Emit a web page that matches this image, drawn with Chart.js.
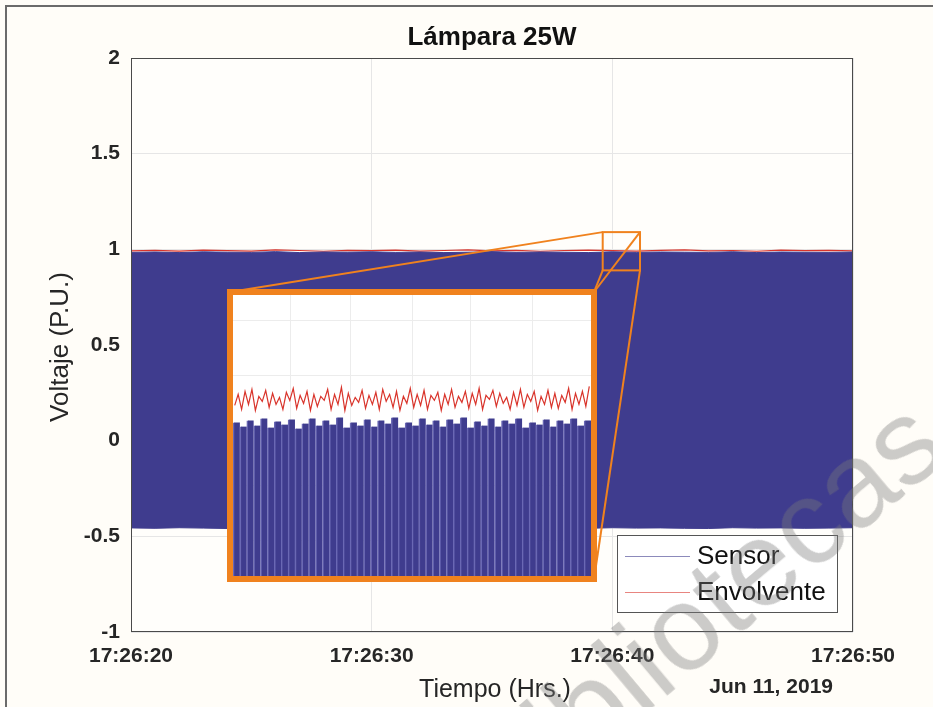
<!DOCTYPE html>
<html>
<head>
<meta charset="utf-8">
<title>Lámpara 25W</title>
<script src="https://cdn.jsdelivr.net/npm/chart.js@4.4.0/dist/chart.umd.min.js"></script>
<style>
    html, body {
        margin: 0;
        padding: 0;
        background: #ffffff;
    }

    #figura {
        position: relative;
        width: 933px;
        height: 707px;
        overflow: hidden;
        background: #fffdf8;
    }

    #cadre {
        position: absolute;
        left: 5px;
        top: 5px;
        width: 960px;
        height: 740px;
        border-left: 2px solid #6b6b6b;
        border-top: 2px solid #6b6b6b;
    }

    #principal {
        position: absolute;
        left: 0;
        top: 0;
    }

    #zoomBox {
        position: absolute;
        left: 227px;
        top: 289px;
        width: 370px;
        height: 293px;
        box-sizing: border-box;
        border: 6px solid #f0821e;
        background: #ffffff;
    }

    #zoomBox canvas {
        display: block;
    }

    #filigrane {
        position: absolute;
        left: 452px;
        top: 742px;
        transform-origin: 0 0;
        transform: rotate(-40deg);
        font-family: "Liberation Sans", Arial, sans-serif;
        font-size: 120px;
        line-height: 1;
        white-space: nowrap;
        color: rgba(120, 120, 120, 0.38);
        pointer-events: none;
    }
</style>
</head>
<body>
<div id="figura">
    <div id="cadre"></div>
    <canvas id="principal" width="933" height="707"></canvas>
    <div id="zoomBox"><canvas id="zoom" width="358" height="281"></canvas></div>
    <div id="filigrane">bibliotecas</div>
</div>

<script>
    // ---- données ----
    const titre = 'Lámpara 25W';
    const titreX = 'Tiempo (Hrs.)';
    const titreY = 'Voltaje (P.U.)';
    const dateLabel = 'Jun 11, 2019';
    const legendLabels = ['Sensor', 'Envolvente'];

    // secondes depuis 17:26:20
    const segundos = [0, 1, 2, 3, 4, 5, 6, 7, 8, 9, 10, 11, 12, 13, 14, 15, 16, 17, 18, 19, 20,
        21, 22, 23, 24, 25, 26, 27, 28, 29, 30];
    const xTickLabels = ['17:26:20', '17:26:30', '17:26:40', '17:26:50'];

    const sensorMax = [0.984, 0.986, 0.983, 0.987, 0.985, 0.984, 0.988, 0.983, 0.986, 0.985, 0.987,
        0.984, 0.986, 0.983, 0.985, 0.988, 0.984, 0.986, 0.985, 0.983, 0.987,
        0.984, 0.986, 0.985, 0.984, 0.987, 0.983, 0.986, 0.985, 0.984, 0.986];
    const sensorMin = [-0.456, -0.458, -0.455, -0.457, -0.459, -0.456, -0.455, -0.458, -0.457, -0.456, -0.459,
        -0.455, -0.457, -0.458, -0.456, -0.455, -0.457, -0.459, -0.456, -0.458, -0.455,
        -0.457, -0.456, -0.458, -0.459, -0.455, -0.457, -0.456, -0.458, -0.457, -0.455];
    const envolvente = [0.992, 0.995, 0.991, 0.996, 0.993, 0.991, 0.997, 0.994, 0.990, 0.995, 0.993,
        0.996, 0.991, 0.994, 0.997, 0.992, 0.995, 0.990, 0.994, 0.996, 0.993,
        0.991, 0.995, 0.997, 0.992, 0.994, 0.990, 0.996, 0.993, 0.995, 0.992];

    // rectangle agrandi (unités des axes)
    const zoomX = [19.6, 21.15];
    const zoomY = [0.89, 1.09];

    // encart : crêtes du capteur et enveloppe
    const insetSensor = [0.973, 0.969, 0.975, 0.970, 0.977, 0.968, 0.974, 0.971, 0.976, 0.967, 0.972, 0.977, 0.970,
        0.975, 0.971, 0.978, 0.968, 0.973, 0.970, 0.976, 0.969, 0.975, 0.972, 0.978, 0.968, 0.973,
        0.970, 0.977, 0.971, 0.975, 0.969, 0.976, 0.972, 0.978, 0.968, 0.974, 0.970, 0.977, 0.969,
        0.975, 0.972, 0.977, 0.968, 0.973, 0.971, 0.976, 0.969, 0.975, 0.972, 0.977, 0.970, 0.975];
    const insetEnvolvente = [0.990, 1.001, 0.986, 1.004, 0.991, 1.006, 0.985, 0.999, 0.994, 1.005, 0.988, 1.002,
        0.991, 0.998, 0.986, 1.003, 0.995, 1.007, 0.987, 1.000, 0.992, 1.004, 0.985, 1.001,
        0.989, 0.999, 0.995, 1.006, 0.986, 1.001, 0.991, 1.008, 0.985, 1.002, 0.990, 0.998,
        0.993, 1.005, 0.987, 1.000, 0.991, 1.003, 0.986, 1.006, 0.994, 1.001, 0.988, 1.004,
        0.985, 0.999, 0.992, 1.007, 0.988, 1.001, 0.990, 1.005, 0.986, 1.000, 0.995, 1.003,
        0.985, 1.001, 0.991, 1.006, 0.988, 0.999, 0.993, 1.004, 0.987, 1.002, 0.991, 1.007,
        0.986, 1.000, 0.996, 1.005, 0.989, 1.002, 0.992, 0.998, 0.986, 1.003, 0.990, 1.006,
        0.988, 1.001, 0.994, 1.004, 0.985, 0.999, 0.991, 1.005, 0.988, 1.002, 0.987, 1.000,
        0.993, 1.007, 0.986, 1.002, 0.991, 1.004, 0.989, 1.009];
    const insetXGrid = [7.8, 16.5, 25.5, 34, 43];
    const insetYGrid = [1.075, 1.02, 0.965, 0.91, 0.855];

    const bleu = '#3f3c8e';
    const rouge = '#d9342b';
    const orange = '#f0821e';
    const texte = '#262626';
    const police = '"Liberation Sans", Arial, sans-serif';

    /**
     * Dessine titre, libellés d'axes, cadre, liaisons vers l'encart et légende
     */
    const decorPlugin = {
        id: 'decor',
        beforeDraw(chart) {
            const {ctx, chartArea} = chart;
            ctx.save();
            ctx.fillStyle = '#fffefb';
            ctx.fillRect(chartArea.left, chartArea.top, chartArea.right - chartArea.left, chartArea.bottom - chartArea.top);
            ctx.restore();
        },
        afterDatasetsDraw(chart) {
            const {ctx, chartArea, scales} = chart;
            const x = scales.x;
            const y = scales.y;

            // cadre des axes
            ctx.save();
            ctx.strokeStyle = '#4a4a4a';
            ctx.lineWidth = 1;
            ctx.strokeRect(chartArea.left + 0.5, chartArea.top + 0.5,
                chartArea.right - chartArea.left - 1, chartArea.bottom - chartArea.top - 1);

            // rectangle agrandi + liaisons vers l'encart
            const rx0 = x.getPixelForValue(zoomX[0]);
            const rx1 = x.getPixelForValue(zoomX[1]);
            const ry0 = y.getPixelForValue(zoomY[1]);
            const ry1 = y.getPixelForValue(zoomY[0]);
            const box = document.getElementById('zoomBox');
            const bx0 = box.offsetLeft + 3;
            const by0 = box.offsetTop + 3;
            const bx1 = box.offsetLeft + box.offsetWidth - 3;
            const by1 = box.offsetTop + box.offsetHeight - 3;

            ctx.strokeStyle = orange;
            ctx.lineWidth = 2;
            ctx.strokeRect(rx0, ry0, rx1 - rx0, ry1 - ry0);
            const liens = [
                [bx0, by0, rx0, ry0],
                [bx1, by0, rx1, ry0],
                [bx1, by0, rx0, ry1],
                [bx1, by1, rx1, ry1]
            ];
            for (const l of liens) {
                ctx.beginPath();
                ctx.moveTo(l[0], l[1]);
                ctx.lineTo(l[2], l[3]);
                ctx.stroke();
            }
            ctx.restore();
        },
        afterDraw(chart) {
            const {ctx, chartArea} = chart;
            ctx.save();

            // titre
            ctx.fillStyle = '#111111';
            ctx.font = 'bold 26px ' + police;
            ctx.textAlign = 'center';
            ctx.textBaseline = 'middle';
            ctx.fillText(titre, (chartArea.left + chartArea.right) / 2, 38);

            // libellé x et date
            ctx.fillStyle = texte;
            ctx.font = '25px ' + police;
            ctx.fillText(titreX, (chartArea.left + chartArea.right) / 2 + 3, 690);
            ctx.font = 'bold 21px ' + police;
            ctx.textAlign = 'right';
            ctx.fillText(dateLabel, chartArea.right - 20, 687);

            // libellé y
            ctx.save();
            ctx.translate(61, (chartArea.top + chartArea.bottom) / 2 + 2);
            ctx.rotate(-Math.PI / 2);
            ctx.textAlign = 'center';
            ctx.font = '26px ' + police;
            ctx.fillText(titreY, 0, 0);
            ctx.restore();

            // légende
            const lw = 220;
            const lh = 77;
            const lx = chartArea.right - 16 - lw;
            const ly = chartArea.bottom - 20 - lh;
            ctx.fillStyle = '#ffffff';
            ctx.fillRect(lx, ly, lw, lh);
            ctx.strokeStyle = '#555555';
            ctx.lineWidth = 1;
            ctx.strokeRect(lx + 0.5, ly + 0.5, lw, lh);

            const couleurs = [chart.data.datasets[0].borderColor, chart.data.datasets[2].borderColor];
            ctx.font = '26px ' + police;
            ctx.textAlign = 'left';
            for (let i = 0; i < legendLabels.length; i++) {
                const yy = ly + 21 + i * 36;
                ctx.globalAlpha = 0.6;
                ctx.strokeStyle = couleurs[i];
                ctx.beginPath();
                ctx.moveTo(lx + 8, yy + 0.5);
                ctx.lineTo(lx + 73, yy + 0.5);
                ctx.stroke();
                ctx.globalAlpha = 1;
                ctx.fillStyle = '#111111';
                ctx.fillText(legendLabels[i], lx + 80, yy + 1);
            }
            ctx.restore();
        }
    };

    new Chart(document.getElementById('principal').getContext('2d'), {
        type: 'line',
        data: {
            datasets: [
                {
                    label: legendLabels[0],
                    data: segundos.map((s, i) => ({x: s, y: sensorMax[i]})),
                    borderColor: bleu,
                    backgroundColor: bleu,
                    borderWidth: 1,
                    pointRadius: 0,
                    fill: '+1'
                },
                {
                    label: 'min',
                    data: segundos.map((s, i) => ({x: s, y: sensorMin[i]})),
                    borderColor: bleu,
                    borderWidth: 1,
                    pointRadius: 0,
                    fill: false
                },
                {
                    label: legendLabels[1],
                    data: segundos.map((s, i) => ({x: s, y: envolvente[i]})),
                    borderColor: rouge,
                    borderWidth: 1.2,
                    pointRadius: 0,
                    fill: false
                }
            ]
        },
        options: {
            responsive: false,
            animation: false,
            devicePixelRatio: 1,
            layout: {
                padding: {top: 58, right: 80, bottom: 0, left: 0}
            },
            plugins: {
                legend: {display: false},
                tooltip: {enabled: false}
            },
            scales: {
                x: {
                    type: 'linear',
                    min: 0,
                    max: 30,
                    afterFit(scale) {
                        scale.height = 75;
                    },
                    grid: {color: '#e6e6e6', drawTicks: false},
                    border: {display: false},
                    ticks: {
                        stepSize: 10,
                        padding: 12,
                        color: texte,
                        font: {family: police, size: 21, weight: 'bold'},
                        maxRotation: 0,
                        callback: (value) => xTickLabels[value / 10]
                    }
                },
                y: {
                    min: -1,
                    max: 2,
                    afterFit(scale) {
                        scale.width = 131;
                    },
                    grid: {color: '#e6e6e6', drawTicks: false},
                    border: {display: false},
                    ticks: {
                        stepSize: 0.5,
                        padding: 11,
                        color: texte,
                        font: {family: police, size: 21, weight: 'bold'},
                        callback: (value) => String(value)
                    }
                }
            }
        },
        plugins: [decorPlugin]
    });

    // encart agrandi
    new Chart(document.getElementById('zoom').getContext('2d'), {
        type: 'bar',
        data: {
            datasets: [
                {
                    type: 'line',
                    label: legendLabels[1],
                    data: insetEnvolvente.map((v, i) => ({x: i * 0.5 - 0.25, y: v})),
                    borderColor: rouge,
                    borderWidth: 1.2,
                    pointRadius: 0,
                    fill: false,
                    order: 0
                },
                {
                    type: 'bar',
                    label: legendLabels[0],
                    data: insetSensor.map((v, i) => ({x: i, y: v})),
                    backgroundColor: bleu,
                    borderColor: '#6a68b4',
                    borderWidth: {left: 1.5, right: 0, top: 0, bottom: 0},
                    barPercentage: 1,
                    categoryPercentage: 1,
                    order: 1
                }
            ]
        },
        options: {
            responsive: false,
            animation: false,
            devicePixelRatio: 1,
            layout: {padding: 0},
            plugins: {
                legend: {display: false},
                tooltip: {enabled: false}
            },
            scales: {
                x: {
                    type: 'linear',
                    offset: false,
                    min: -0.5,
                    max: 51.5,
                    afterBuildTicks(scale) {
                        scale.ticks = insetXGrid.map(v => ({value: v}));
                    },
                    grid: {color: '#ececec', drawTicks: false, offset: false},
                    border: {display: false},
                    ticks: {display: false}
                },
                y: {
                    min: 0.82,
                    max: 1.1,
                    afterBuildTicks(scale) {
                        scale.ticks = insetYGrid.map(v => ({value: v}));
                    },
                    grid: {color: '#ececec', drawTicks: false},
                    border: {display: false},
                    ticks: {display: false}
                }
            }
        }
    });
</script>
</body>
</html>
